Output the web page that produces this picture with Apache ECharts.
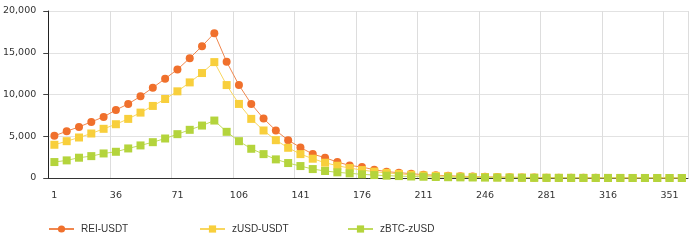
<!DOCTYPE html>
<html>
<head>
<meta charset="utf-8">
<script src="https://cdn.jsdelivr.net/npm/echarts@6/dist/echarts.min.js"></script>
<style>html,body{margin:0;padding:0;background:#fff;}#c{width:700px;height:244px;}</style>
</head>
<body>
<div id="c"></div>
<script>
var categories = ['1','8','15','22','29','36','43','50','57','64','71','78','85','92','99','106','113','120','127','134','141','148','155','162','169','176','183','190','197','204','211','218','225','232','239','246','253','260','267','274','281','288','295','302','309','316','323','330','337','344','351','358'];
var reiUsdt = [5050,5600,6120,6720,7320,8150,8870,9780,10820,11890,13000,14350,15790,17340,
  13920,11130,8870,7120,5690,4530,3660,2860,2430,1910,1510,1310,990,760,640,520,400,
  330,270,210,170,140,110,90,70,60,40,30,25,20,15,12,10,8,6,5,4,3];
var zusdUsdt = [3980,4410,4850,5330,5890,6440,7080,7830,8630,9460,10380,11450,12570,13880,
  11130,8870,7080,5690,4530,3620,2860,2310,1830,1470,1190,950,760,610,490,390,310,
  260,210,170,130,110,90,70,55,45,35,25,20,16,12,10,8,6,5,4,3,2];
var zbtcZusd = [1910,2110,2430,2620,2940,3140,3540,3900,4290,4730,5250,5770,6280,6880,
  5530,4410,3500,2860,2230,1790,1430,1070,840,680,560,440,350,280,230,180,150,
  120,95,75,60,50,40,30,25,20,15,12,10,8,6,5,4,3,2,2,1,1];
var yTicks = [0,5000,10000,15000,20000];

var names = ['REI-USDT','zUSD-USDT','zBTC-zUSD'];
var colors = ['#F0702C','#F8CF3C','#B4D43C'];
var symbols = ['circle','rect','rect'];
var lineColors = ['#F0874E','#F8D65E','#C0DA5E'];
var datas = [reiUsdt, zusdUsdt, zbtcZusd];
var legendLefts = [43, 194, 342];

var chart = echarts.init(document.getElementById('c'));
var fontAxis = 'DejaVu Sans';
chart.setOption({
  animation: false,
  grid: {left: 48, right: 12, top: 11, bottom: 66},
  legend: names.map(function(n, i){
    return {
      data: [n], left: legendLefts[i], top: 219,
      itemWidth: 25, itemHeight: 9, itemGap: 0,
      textStyle: {fontFamily: 'Liberation Sans', fontSize: 10, color: '#333', padding: [0,0,0,2]}
    };
  }),
  xAxis: {
    type: 'category', data: categories, boundaryGap: true,
    axisLine: {lineStyle: {color: '#333', width: 1}},
    axisTick: {alignWithLabel: true, interval: 4, length: 5, lineStyle: {color: '#444'}},
    axisLabel: {interval: 4, fontFamily: fontAxis, fontSize: 9.5, color: '#333', margin: 13},
    splitLine: {show: true, interval: 4, lineStyle: {color: '#ddd'}}
  },
  yAxis: {
    type: 'value', min: yTicks[0], max: yTicks[yTicks.length-1], interval: 5000,
    axisLine: {show: true, lineStyle: {color: '#222', width: 1}},
    axisTick: {show: true, length: 5, lineStyle: {color: '#444'}},
    axisLabel: {fontFamily: fontAxis, fontSize: 9.5, color: '#333', margin: 12,
      formatter: function(v){ return v.toLocaleString('en-US'); }},
    splitLine: {lineStyle: {color: '#e2e2e2'}}
  },
  series: names.map(function(n, i){
    return {
      name: n, type: 'line', data: datas[i],
      symbol: symbols[i], symbolSize: 8,
      showAllSymbol: true,
      itemStyle: {color: colors[i]},
      lineStyle: {color: lineColors[i], width: 1}
    };
  })
});
</script>
</body>
</html>
